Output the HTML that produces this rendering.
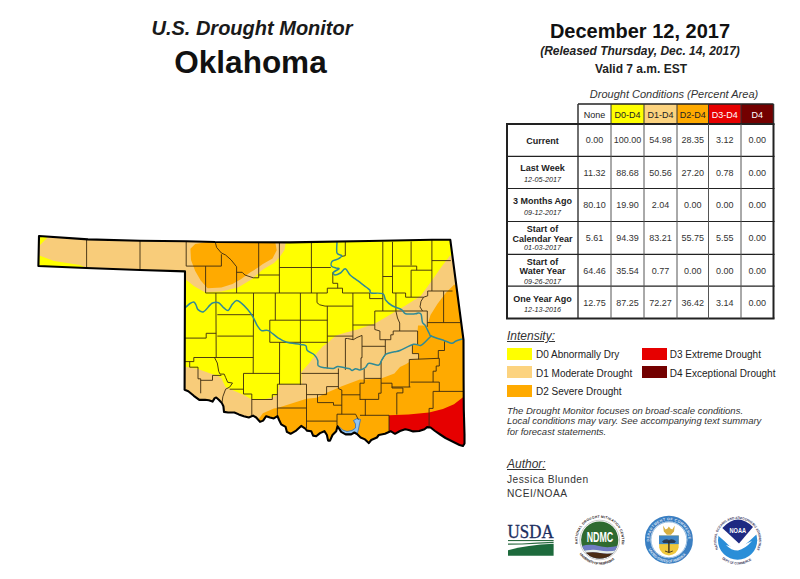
<!DOCTYPE html>
<html><head><meta charset="utf-8">
<style>
html,body{margin:0;padding:0;background:#fff;}
body{width:800px;height:579px;position:relative;overflow:hidden;font-family:"Liberation Sans",sans-serif;color:#222;}
.t{position:absolute;white-space:nowrap;line-height:1;}
.c{text-align:center;}
#tbl div{position:absolute;}
.cell{font-size:9px;line-height:1;text-align:center;color:#333;}
.lab{font-size:9px;font-weight:bold;text-align:center;color:#222;line-height:1;}
.lab i{font-weight:normal;font-size:7.2px;color:#222;}
.sw{position:absolute;width:25px;height:12px;}
.lg{position:absolute;font-size:10px;line-height:1;white-space:nowrap;color:#222;}
</style></head>
<body>
<div class="t c" style="left:102px;top:18px;width:300px;font-size:20px;font-weight:bold;font-style:italic;color:#1a1a1a;">U.S. Drought Monitor</div>
<div class="t c" style="left:100.5px;top:46.5px;width:300px;font-size:31.5px;font-weight:bold;color:#111;">Oklahoma</div>

<div class="t c" style="left:490px;top:21px;width:300px;font-size:20px;font-weight:bold;color:#111;">December 12, 2017</div>
<div class="t c" style="left:490px;top:45px;width:300px;font-size:12px;font-weight:bold;font-style:italic;color:#222;">(Released Thursday, Dec. 14, 2017)</div>
<div class="t c" style="left:491px;top:62.5px;width:300px;font-size:12px;font-weight:bold;color:#222;">Valid 7 a.m. EST</div>
<div class="t c" style="left:574px;top:89px;width:200px;font-size:11px;font-style:italic;color:#333;">Drought Conditions (Percent Area)</div>

<svg id="map" style="position:absolute;left:0;top:0;" width="800" height="579" viewBox="0 0 800 579">
<defs><clipPath id="st"><polygon points="39.0,236.0 88.0,239.4 140.0,240.8 186.0,241.2 215.0,242.0 290.0,242.4 369.0,241.0 432.0,239.8 450.3,239.8 463.5,340.0 463.6,380.0 463.8,410.0 464.5,434.0 464.5,443.5 463.0,446.0 459.5,445.0 452.5,441.5 445.5,438.0 440.2,434.5 435.0,431.0 430.6,427.5 427.1,427.1 424.5,429.2 419.2,431.0 413.1,431.4 408.8,430.1 405.2,429.2 400.0,431.0 395.0,433.8 390.6,431.2 385.0,433.8 378.8,435.0 376.9,437.5 371.2,440.0 368.8,443.1 365.0,439.4 360.6,437.5 357.5,434.4 354.4,432.5 351.2,434.4 345.6,434.4 341.2,431.9 337.5,426.2 336.2,431.2 332.5,435.0 330.0,440.6 328.1,440.6 326.9,435.0 324.4,431.2 320.0,433.1 316.2,436.2 313.1,435.6 311.2,431.2 306.9,430.6 305.6,428.8 301.2,425.9 296.2,430.6 290.6,433.8 286.9,431.9 285.6,426.9 281.2,424.4 279.1,420.0 277.5,416.2 273.8,418.4 270.0,417.5 266.2,416.2 263.1,420.6 260.0,421.9 256.2,417.5 253.1,415.6 248.8,417.5 243.8,416.2 238.8,414.4 234.4,412.5 228.1,412.5 224.0,411.9 223.4,406.2 221.9,403.1 218.8,399.7 216.2,397.5 214.7,398.1 212.5,401.6 208.8,400.3 205.0,399.7 199.3,399.9 193.8,395.8 188.3,391.2 184.6,389.8 185.0,271.4 140.0,270.0 86.0,268.0 38.4,266.0"/></clipPath></defs>
<g clip-path="url(#st)">
<polygon points="39.0,236.0 88.0,239.4 140.0,240.8 186.0,241.2 215.0,242.0 290.0,242.4 369.0,241.0 432.0,239.8 450.3,239.8 463.5,340.0 463.6,380.0 463.8,410.0 464.5,434.0 464.5,443.5 463.0,446.0 459.5,445.0 452.5,441.5 445.5,438.0 440.2,434.5 435.0,431.0 430.6,427.5 427.1,427.1 424.5,429.2 419.2,431.0 413.1,431.4 408.8,430.1 405.2,429.2 400.0,431.0 395.0,433.8 390.6,431.2 385.0,433.8 378.8,435.0 376.9,437.5 371.2,440.0 368.8,443.1 365.0,439.4 360.6,437.5 357.5,434.4 354.4,432.5 351.2,434.4 345.6,434.4 341.2,431.9 337.5,426.2 336.2,431.2 332.5,435.0 330.0,440.6 328.1,440.6 326.9,435.0 324.4,431.2 320.0,433.1 316.2,436.2 313.1,435.6 311.2,431.2 306.9,430.6 305.6,428.8 301.2,425.9 296.2,430.6 290.6,433.8 286.9,431.9 285.6,426.9 281.2,424.4 279.1,420.0 277.5,416.2 273.8,418.4 270.0,417.5 266.2,416.2 263.1,420.6 260.0,421.9 256.2,417.5 253.1,415.6 248.8,417.5 243.8,416.2 238.8,414.4 234.4,412.5 228.1,412.5 224.0,411.9 223.4,406.2 221.9,403.1 218.8,399.7 216.2,397.5 214.7,398.1 212.5,401.6 208.8,400.3 205.0,399.7 199.3,399.9 193.8,395.8 188.3,391.2 184.6,389.8 185.0,271.4 140.0,270.0 86.0,268.0 38.4,266.0" fill="#ffff00"/>
<polygon points="170.0,366.0 184.1,366.4 198.0,369.1 211.8,374.1 217.3,375.4 221.4,378.2 225.6,387.1 235.2,391.2 243.5,394.7 251.8,399.5 262.9,399.5 272.3,397.4 277.4,394.6 279.5,384.2 301.3,384.2 301.3,372.0 308.5,364.0 316.0,354.0 322.6,346.4 328.0,342.6 336.0,335.5 346.0,332.6 358.4,329.2 366.0,326.5 375.0,323.5 397.6,310.2 405.6,305.5 420.8,295.8 431.9,280.6 441.5,266.8 449.8,255.7 480.0,252.0 480.0,460.0 170.0,460.0" fill="#f8cc7a"/>
<polygon points="185.0,241.0 286.0,241.0 284.5,250.0 279.0,258.0 274.0,263.0 262.9,269.5 251.8,279.2 238.0,287.5 221.4,291.6 204.9,292.3 193.8,286.1 185.5,279.2" fill="#f8cc7a"/>
<polygon points="30,230 186,230 186,275 30,275" fill="#f8cc7a"/>
<polygon points="38.0,236.0 48.0,237.0 38.0,247.0" fill="#ffff00"/>
<polygon points="38.0,255.0 54.0,261.0 80.0,265.0 87.0,268.2 38.0,266.5" fill="#ffff00"/>
<polygon points="250.0,430.0 258.7,418.9 262.9,413.3 273.9,408.5 277.4,408.0 306.5,398.7 316.8,397.7 325.0,393.5 341.8,386.2 359.8,379.6 364.2,379.6 381.1,378.4 394.4,373.5 400.0,367.1 406.2,364.0 409.3,361.9 409.3,359.5 418.6,359.3 418.6,353.6 412.4,353.6 412.4,344.3 417.6,344.3 417.6,331.0 418.0,325.4 427.3,325.4 430.5,315.0 437.4,304.1 445.7,293.0 454.0,284.8 480.0,282.0 480.0,460.0 250.0,460.0" fill="#ffaa00"/>
<polygon points="190.4,248.8 195.2,244.0 207.6,242.0 275.3,242.0 276.7,250.2 272.5,258.5 262.9,264.0 257.3,268.1 250.4,272.3 240.8,279.2 232.5,284.0 221.4,287.5 207.6,288.2 200.7,280.6 195.2,270.9 191.0,259.9" fill="#ffaa00"/>
<polygon points="389.0,460.0 389.0,415.3 408.4,414.6 429.1,412.5 442.9,409.1 454.0,404.2 463.0,397.3 480.0,396.0 480.0,460.0" fill="#e60000"/>
<path d="M353.5,420.5 L357,418.5 L360.5,419.5 L359.5,424 L358.5,429 L357.5,433 L352,433.5 L346,434 L341,432 L337.5,427 L339,426.5 L342.5,430 L347,431.5 L352,430.5 L355.5,428 L355.5,424 Z" fill="#8fc4f0" stroke="#2f6fc0" stroke-width="0.8"/>
<polyline points="86.6,239.0 86.6,268.0" fill="none" stroke="#3b2a10" stroke-width="0.9" stroke-linejoin="round"/>
<polyline points="140.0,241.0 140.0,270.0" fill="none" stroke="#3b2a10" stroke-width="0.9" stroke-linejoin="round"/>
<polyline points="186.2,241.9 186.2,266.1" fill="none" stroke="#3b2a10" stroke-width="0.9" stroke-linejoin="round"/>
<polyline points="186.2,266.1 221.4,266.1" fill="none" stroke="#3b2a10" stroke-width="0.9" stroke-linejoin="round"/>
<polyline points="221.4,254.3 221.4,266.1" fill="none" stroke="#3b2a10" stroke-width="0.9" stroke-linejoin="round"/>
<polyline points="215.2,241.9 216.6,247.4 221.4,253.0 225.6,255.0 231.1,259.9 236.6,266.8 236.6,293.0" fill="none" stroke="#3b2a10" stroke-width="0.9" stroke-linejoin="round"/>
<polyline points="205.6,266.1 205.6,293.0" fill="none" stroke="#3b2a10" stroke-width="0.9" stroke-linejoin="round"/>
<polyline points="205.6,293.0 327.3,293.0" fill="none" stroke="#3b2a10" stroke-width="0.9" stroke-linejoin="round"/>
<polyline points="236.6,272.3 242.2,272.3 244.9,275.0 249.0,276.4 253.2,277.8 258.7,277.8" fill="none" stroke="#3b2a10" stroke-width="0.9" stroke-linejoin="round"/>
<polyline points="258.7,242.6 258.7,277.8" fill="none" stroke="#3b2a10" stroke-width="0.9" stroke-linejoin="round"/>
<polyline points="258.7,275.0 279.4,275.0" fill="none" stroke="#3b2a10" stroke-width="0.9" stroke-linejoin="round"/>
<polyline points="279.4,242.6 279.4,293.0" fill="none" stroke="#3b2a10" stroke-width="0.9" stroke-linejoin="round"/>
<polyline points="279.4,267.5 330.8,267.5" fill="none" stroke="#3b2a10" stroke-width="0.9" stroke-linejoin="round"/>
<polyline points="311.4,242.6 311.4,293.0" fill="none" stroke="#3b2a10" stroke-width="0.9" stroke-linejoin="round"/>
<polyline points="345.3,242.0 345.3,255.7 341.8,256.4" fill="none" stroke="#3b2a10" stroke-width="0.9" stroke-linejoin="round"/>
<polyline points="332.8,272.3 332.8,283.3 337.7,283.3 337.7,288.2" fill="none" stroke="#3b2a10" stroke-width="0.9" stroke-linejoin="round"/>
<polyline points="327.3,293.0 327.3,288.2 342.5,288.2 342.5,293.0" fill="none" stroke="#3b2a10" stroke-width="0.9" stroke-linejoin="round"/>
<polyline points="342.5,293.0 369.7,293.0" fill="none" stroke="#3b2a10" stroke-width="0.9" stroke-linejoin="round"/>
<polyline points="369.7,293.0 369.7,298.6 382.8,298.6" fill="none" stroke="#3b2a10" stroke-width="0.9" stroke-linejoin="round"/>
<polyline points="382.8,241.9 382.8,311.0" fill="none" stroke="#3b2a10" stroke-width="0.9" stroke-linejoin="round"/>
<polyline points="382.8,276.5 392.5,276.5" fill="none" stroke="#3b2a10" stroke-width="0.9" stroke-linejoin="round"/>
<polyline points="392.5,241.9 392.5,293.0" fill="none" stroke="#3b2a10" stroke-width="0.9" stroke-linejoin="round"/>
<polyline points="411.1,241.5 411.1,265.4" fill="none" stroke="#3b2a10" stroke-width="0.9" stroke-linejoin="round"/>
<polyline points="392.5,266.1 416.7,266.1 416.7,270.2" fill="none" stroke="#3b2a10" stroke-width="0.9" stroke-linejoin="round"/>
<polyline points="411.1,270.2 432.0,270.2" fill="none" stroke="#3b2a10" stroke-width="0.9" stroke-linejoin="round"/>
<polyline points="411.1,270.2 411.1,297.2" fill="none" stroke="#3b2a10" stroke-width="0.9" stroke-linejoin="round"/>
<polyline points="431.9,240.0 431.9,291.0" fill="none" stroke="#3b2a10" stroke-width="0.9" stroke-linejoin="round"/>
<polyline points="431.9,260.6 450.8,260.6" fill="none" stroke="#3b2a10" stroke-width="0.9" stroke-linejoin="round"/>
<polyline points="392.5,293.0 405.6,293.0 405.6,297.2 423.6,297.2" fill="none" stroke="#3b2a10" stroke-width="0.9" stroke-linejoin="round"/>
<polyline points="427.7,291.0 452.5,291.0" fill="none" stroke="#3b2a10" stroke-width="0.9" stroke-linejoin="round"/>
<polyline points="427.7,291.0 427.7,295.8 423.6,297.2 421.0,301.3 420.0,306.9 422.5,311.0" fill="none" stroke="#3b2a10" stroke-width="0.9" stroke-linejoin="round"/>
<polyline points="374.8,311.0 427.3,311.0" fill="none" stroke="#3b2a10" stroke-width="0.9" stroke-linejoin="round"/>
<polyline points="427.3,311.0 427.3,326.8" fill="none" stroke="#3b2a10" stroke-width="0.9" stroke-linejoin="round"/>
<polyline points="443.6,291.0 443.6,322.6" fill="none" stroke="#3b2a10" stroke-width="0.9" stroke-linejoin="round"/>
<polyline points="427.3,322.6 460.0,322.6" fill="none" stroke="#3b2a10" stroke-width="0.9" stroke-linejoin="round"/>
<polyline points="215.9,293.0 216.2,357.5" fill="none" stroke="#3b2a10" stroke-width="0.9" stroke-linejoin="round"/>
<polyline points="253.5,293.0 253.2,373.4" fill="none" stroke="#3b2a10" stroke-width="0.9" stroke-linejoin="round"/>
<polyline points="275.3,293.0 275.3,320.2" fill="none" stroke="#3b2a10" stroke-width="0.9" stroke-linejoin="round"/>
<polyline points="300.4,293.0 300.4,385.0" fill="none" stroke="#3b2a10" stroke-width="0.9" stroke-linejoin="round"/>
<polyline points="317.0,293.0 317.0,302.7 319.7,304.8 325.0,306.1 352.9,306.1" fill="none" stroke="#3b2a10" stroke-width="0.9" stroke-linejoin="round"/>
<polyline points="352.9,293.0 352.9,339.7" fill="none" stroke="#3b2a10" stroke-width="0.9" stroke-linejoin="round"/>
<polyline points="327.3,306.1 327.3,368.5" fill="none" stroke="#3b2a10" stroke-width="0.9" stroke-linejoin="round"/>
<polyline points="217.3,314.7 253.2,314.7" fill="none" stroke="#3b2a10" stroke-width="0.9" stroke-linejoin="round"/>
<polyline points="217.3,336.1 253.2,336.1" fill="none" stroke="#3b2a10" stroke-width="0.9" stroke-linejoin="round"/>
<polyline points="184.1,338.1 206.2,338.1 206.2,333.3 216.2,333.3" fill="none" stroke="#3b2a10" stroke-width="0.9" stroke-linejoin="round"/>
<polyline points="269.8,320.2 327.3,320.2" fill="none" stroke="#3b2a10" stroke-width="0.9" stroke-linejoin="round"/>
<polyline points="269.8,320.2 269.8,342.3" fill="none" stroke="#3b2a10" stroke-width="0.9" stroke-linejoin="round"/>
<polyline points="269.8,342.3 327.3,342.3" fill="none" stroke="#3b2a10" stroke-width="0.9" stroke-linejoin="round"/>
<polyline points="352.9,325.0 374.8,325.0" fill="none" stroke="#3b2a10" stroke-width="0.9" stroke-linejoin="round"/>
<polyline points="374.8,311.0 374.8,329.5 379.9,331.0 379.9,339.7 390.8,339.7 390.8,334.8 393.2,334.8 393.2,331.0 417.6,331.0 417.6,344.3" fill="none" stroke="#3b2a10" stroke-width="0.9" stroke-linejoin="round"/>
<polyline points="395.9,293.0 395.9,311.0 397.5,318.0 399.7,323.0 399.7,331.0" fill="none" stroke="#3b2a10" stroke-width="0.9" stroke-linejoin="round"/>
<polyline points="327.3,336.1 352.9,336.1" fill="none" stroke="#3b2a10" stroke-width="0.9" stroke-linejoin="round"/>
<polyline points="345.4,338.5 345.4,369.9" fill="none" stroke="#3b2a10" stroke-width="0.9" stroke-linejoin="round"/>
<polyline points="345.4,338.5 347.5,338.5 353.3,339.7 357.0,337.5 362.0,335.4 362.0,357.8 361.0,357.8 361.0,369.9" fill="none" stroke="#3b2a10" stroke-width="0.9" stroke-linejoin="round"/>
<polyline points="362.0,346.3 385.3,346.3" fill="none" stroke="#3b2a10" stroke-width="0.9" stroke-linejoin="round"/>
<polyline points="385.3,339.7 385.3,354.2" fill="none" stroke="#3b2a10" stroke-width="0.9" stroke-linejoin="round"/>
<polyline points="412.4,344.3 412.4,353.6 418.6,353.6 418.6,359.3" fill="none" stroke="#3b2a10" stroke-width="0.9" stroke-linejoin="round"/>
<polyline points="409.3,359.5 439.3,358.3" fill="none" stroke="#3b2a10" stroke-width="0.9" stroke-linejoin="round"/>
<polyline points="409.3,359.5 409.3,387.0" fill="none" stroke="#3b2a10" stroke-width="0.9" stroke-linejoin="round"/>
<polyline points="391.8,387.0 410.4,387.0" fill="none" stroke="#3b2a10" stroke-width="0.9" stroke-linejoin="round"/>
<polyline points="410.4,382.1 439.3,382.1" fill="none" stroke="#3b2a10" stroke-width="0.9" stroke-linejoin="round"/>
<polyline points="439.3,382.1 439.3,391.4" fill="none" stroke="#3b2a10" stroke-width="0.9" stroke-linejoin="round"/>
<polyline points="433.1,391.4 463.0,391.4" fill="none" stroke="#3b2a10" stroke-width="0.9" stroke-linejoin="round"/>
<polyline points="433.1,371.2 433.1,382.1" fill="none" stroke="#3b2a10" stroke-width="0.9" stroke-linejoin="round"/>
<polyline points="433.1,371.2 436.2,371.2 436.2,366.0 439.3,366.0 439.3,358.3" fill="none" stroke="#3b2a10" stroke-width="0.9" stroke-linejoin="round"/>
<polyline points="438.3,358.3 438.3,350.5 444.5,350.5 444.5,341.2" fill="none" stroke="#3b2a10" stroke-width="0.9" stroke-linejoin="round"/>
<polyline points="385.3,354.2 381.1,361.4 381.1,383.2" fill="none" stroke="#3b2a10" stroke-width="0.9" stroke-linejoin="round"/>
<polyline points="364.2,368.7 364.2,383.2 360.0,383.2 360.0,400.0" fill="none" stroke="#3b2a10" stroke-width="0.9" stroke-linejoin="round"/>
<polyline points="364.8,378.4 381.1,378.4" fill="none" stroke="#3b2a10" stroke-width="0.9" stroke-linejoin="round"/>
<polyline points="381.1,383.2 392.0,383.2 392.0,388.0 402.9,388.0 402.9,392.9 396.8,392.9 396.8,414.6" fill="none" stroke="#3b2a10" stroke-width="0.9" stroke-linejoin="round"/>
<polyline points="381.1,383.2 381.1,393.2 378.7,393.2 378.7,399.4" fill="none" stroke="#3b2a10" stroke-width="0.9" stroke-linejoin="round"/>
<polyline points="360.0,399.4 378.7,399.4" fill="none" stroke="#3b2a10" stroke-width="0.9" stroke-linejoin="round"/>
<polyline points="193.8,357.5 253.2,357.5" fill="none" stroke="#3b2a10" stroke-width="0.9" stroke-linejoin="round"/>
<polyline points="193.8,357.5 193.8,361.6 184.1,361.6" fill="none" stroke="#3b2a10" stroke-width="0.9" stroke-linejoin="round"/>
<polyline points="189.7,361.6 189.7,367.2 198.0,367.2 198.0,378.8 200.7,378.8 200.7,393.3" fill="none" stroke="#3b2a10" stroke-width="0.9" stroke-linejoin="round"/>
<polyline points="200.7,380.3 212.5,380.3 212.5,375.4 221.4,375.4" fill="none" stroke="#3b2a10" stroke-width="0.9" stroke-linejoin="round"/>
<polyline points="214.5,357.5 217.3,363.0 218.7,371.3 220.0,374.1 224.2,374.1 225.6,377.4 227.7,382.3 232.5,383.0 229.7,387.1 225.6,389.2 222.8,396.8 222.1,402.3" fill="none" stroke="#3b2a10" stroke-width="0.9" stroke-linejoin="round"/>
<polyline points="229.7,389.2 243.5,389.2" fill="none" stroke="#3b2a10" stroke-width="0.9" stroke-linejoin="round"/>
<polyline points="243.5,373.4 279.5,373.4" fill="none" stroke="#3b2a10" stroke-width="0.9" stroke-linejoin="round"/>
<polyline points="301.3,373.4 339.0,373.4" fill="none" stroke="#3b2a10" stroke-width="0.9" stroke-linejoin="round"/>
<polyline points="243.5,373.4 243.5,394.0 251.8,394.0 251.8,416.1" fill="none" stroke="#3b2a10" stroke-width="0.9" stroke-linejoin="round"/>
<polyline points="251.8,399.5 272.3,399.5 272.3,394.6 277.4,394.6" fill="none" stroke="#3b2a10" stroke-width="0.9" stroke-linejoin="round"/>
<polyline points="279.6,342.3 279.5,384.2" fill="none" stroke="#3b2a10" stroke-width="0.9" stroke-linejoin="round"/>
<polyline points="277.4,384.2 306.5,384.2" fill="none" stroke="#3b2a10" stroke-width="0.9" stroke-linejoin="round"/>
<polyline points="277.4,384.2 277.4,417.0" fill="none" stroke="#3b2a10" stroke-width="0.9" stroke-linejoin="round"/>
<polyline points="306.5,384.2 306.5,428.0" fill="none" stroke="#3b2a10" stroke-width="0.9" stroke-linejoin="round"/>
<polyline points="277.4,408.0 306.5,408.0" fill="none" stroke="#3b2a10" stroke-width="0.9" stroke-linejoin="round"/>
<polyline points="338.4,368.5 338.4,388.6 341.8,390.0 341.8,414.2" fill="none" stroke="#3b2a10" stroke-width="0.9" stroke-linejoin="round"/>
<polyline points="306.5,394.6 326.6,394.6 326.6,386.6 338.4,386.6" fill="none" stroke="#3b2a10" stroke-width="0.9" stroke-linejoin="round"/>
<polyline points="341.8,394.8 360.0,394.8" fill="none" stroke="#3b2a10" stroke-width="0.9" stroke-linejoin="round"/>
<polyline points="317.5,394.6 317.5,402.6 333.5,402.6 333.5,405.2 341.8,405.2" fill="none" stroke="#3b2a10" stroke-width="0.9" stroke-linejoin="round"/>
<polyline points="337.0,414.2 355.6,414.2 358.4,419.7" fill="none" stroke="#3b2a10" stroke-width="0.9" stroke-linejoin="round"/>
<polyline points="306.5,421.1 337.0,421.1" fill="none" stroke="#3b2a10" stroke-width="0.9" stroke-linejoin="round"/>
<polyline points="337.0,414.2 337.0,425.2" fill="none" stroke="#3b2a10" stroke-width="0.9" stroke-linejoin="round"/>
<polyline points="365.3,399.4 365.3,415.6" fill="none" stroke="#3b2a10" stroke-width="0.9" stroke-linejoin="round"/>
<polyline points="360.0,415.3 389.0,415.3" fill="none" stroke="#3b2a10" stroke-width="0.9" stroke-linejoin="round"/>
<polyline points="389.0,415.3 389.0,431.9" fill="none" stroke="#3b2a10" stroke-width="0.9" stroke-linejoin="round"/>
<polyline points="429.1,408.4 429.1,427.0" fill="none" stroke="#3b2a10" stroke-width="0.9" stroke-linejoin="round"/>
<polyline points="433.1,391.4 433.1,408.4 429.1,408.4" fill="none" stroke="#3b2a10" stroke-width="0.9" stroke-linejoin="round"/>
<path d="M183.5,308.2 C183.9,308.0 185.1,307.6 186.2,306.8 C187.3,306.0 188.7,304.3 190.0,303.5 C191.3,302.7 192.8,301.8 193.8,302.0 C194.8,302.2 195.3,303.7 196.0,305.0 C196.7,306.3 196.8,308.5 198.0,309.6 C199.2,310.7 201.6,312.4 203.5,311.7 C205.4,311.0 208.1,306.9 209.7,305.4 C211.3,303.9 211.6,303.1 213.1,302.7 C214.6,302.2 216.8,301.8 218.7,302.7 C220.5,303.6 222.6,306.9 224.2,308.2 C225.8,309.5 226.9,311.0 228.3,310.3 C229.7,309.6 231.1,305.6 232.5,304.0 C233.9,302.4 235.2,300.8 236.6,300.6 C238.0,300.4 239.0,301.2 240.8,302.7 C242.7,304.2 245.6,307.2 247.7,309.6 C249.8,312.1 251.6,314.7 253.2,317.4 C254.8,320.1 255.9,323.5 257.3,325.7 C258.7,327.9 259.6,329.8 261.5,330.6 C263.4,331.4 265.6,329.4 268.4,330.6 C271.2,331.9 275.3,336.2 278.3,338.1 C281.3,340.1 282.9,341.2 286.6,342.3 C290.3,343.4 297.2,343.8 300.4,344.4 C303.6,345.0 304.8,344.7 305.9,345.7 C307.0,346.7 305.9,349.1 307.3,350.6 C308.7,352.1 312.5,353.1 314.2,354.7 C315.9,356.3 317.0,358.3 317.7,360.2 C318.4,362.1 317.1,364.5 318.3,365.8 C319.6,367.1 322.7,367.4 325.2,367.8 C327.7,368.2 331.4,368.7 333.5,368.5 C335.6,368.3 335.8,366.6 337.7,366.5 C339.6,366.4 342.6,367.4 344.6,367.8 C346.6,368.2 348.4,368.2 349.7,368.7 C350.9,369.1 351.1,370.5 352.1,370.5 C353.1,370.5 354.4,368.8 355.7,368.7 C357.0,368.6 358.4,370.1 360.0,369.9 C361.6,369.7 363.9,368.6 365.4,367.5 C366.9,366.4 366.8,363.7 369.0,363.3 C371.2,362.9 376.6,365.6 378.7,365.1 C380.8,364.6 380.5,362.0 381.7,360.2 C382.9,358.4 383.9,355.6 386.0,354.2 C388.1,352.8 392.1,352.4 394.4,351.8 C396.7,351.2 396.8,351.8 400.0,350.5 C403.2,349.2 410.1,345.2 413.5,344.3 C416.9,343.4 418.6,345.9 420.7,345.4 C422.8,344.9 424.2,342.8 425.9,341.2 C427.6,339.6 430.2,336.9 431.1,336.0" fill="none" stroke="#2f8a96" stroke-width="1.5" stroke-linejoin="round" stroke-linecap="round"/>
<path d="M337.0,242.0 C337.0,243.8 336.2,250.7 337.0,253.0 C337.8,255.3 341.7,254.7 341.8,255.7 C341.9,256.7 339.3,258.3 337.7,259.2 C336.1,260.1 333.2,260.0 332.2,261.2 C331.2,262.4 330.8,265.0 331.5,266.1 C332.2,267.2 335.1,267.7 336.3,268.1 C337.6,268.6 339.5,268.1 339.0,268.8 C338.5,269.5 334.2,271.3 333.5,272.3 C332.8,273.3 333.8,274.9 334.9,275.0 C336.0,275.1 338.7,274.0 340.4,273.0 C342.1,272.0 343.7,268.5 345.3,268.8 C346.9,269.1 348.4,273.3 350.1,275.0 C351.8,276.7 353.8,277.8 355.6,279.2 C357.5,280.6 359.4,281.9 361.2,283.3 C363.0,284.7 365.2,286.4 366.7,287.5 C368.2,288.6 369.3,289.3 370.0,290.2 C370.7,291.1 368.9,292.4 371.0,293.0 C373.1,293.6 380.4,292.5 382.8,293.7 C385.2,294.9 384.1,298.0 385.6,300.0 C387.1,302.0 389.2,303.9 391.8,305.5 C394.4,307.1 399.2,308.2 401.5,309.6 C403.8,311.0 403.3,313.1 405.6,313.8 C407.9,314.5 413.2,313.9 415.3,313.8 C417.4,313.7 417.3,312.9 418.3,313.0 C419.3,313.1 420.4,312.7 421.1,314.3 C421.8,315.9 421.8,320.8 422.5,322.6 C423.2,324.5 424.1,323.5 425.2,325.4 C426.4,327.2 428.4,331.9 429.4,333.7 C430.4,335.5 428.6,334.8 431.1,336.0 C433.6,337.2 441.1,339.5 444.5,340.7 C447.9,341.9 449.9,343.2 451.8,343.3 C453.7,343.4 454.3,341.7 456.0,341.0 C457.7,340.3 461.0,339.4 462.0,339.1" fill="none" stroke="#2f8a96" stroke-width="1.5" stroke-linejoin="round" stroke-linecap="round"/>
</g>
<polygon points="39.0,236.0 88.0,239.4 140.0,240.8 186.0,241.2 215.0,242.0 290.0,242.4 369.0,241.0 432.0,239.8 450.3,239.8 463.5,340.0 463.6,380.0 463.8,410.0 464.5,434.0 464.5,443.5 463.0,446.0 459.5,445.0 452.5,441.5 445.5,438.0 440.2,434.5 435.0,431.0 430.6,427.5 427.1,427.1 424.5,429.2 419.2,431.0 413.1,431.4 408.8,430.1 405.2,429.2 400.0,431.0 395.0,433.8 390.6,431.2 385.0,433.8 378.8,435.0 376.9,437.5 371.2,440.0 368.8,443.1 365.0,439.4 360.6,437.5 357.5,434.4 354.4,432.5 351.2,434.4 345.6,434.4 341.2,431.9 337.5,426.2 336.2,431.2 332.5,435.0 330.0,440.6 328.1,440.6 326.9,435.0 324.4,431.2 320.0,433.1 316.2,436.2 313.1,435.6 311.2,431.2 306.9,430.6 305.6,428.8 301.2,425.9 296.2,430.6 290.6,433.8 286.9,431.9 285.6,426.9 281.2,424.4 279.1,420.0 277.5,416.2 273.8,418.4 270.0,417.5 266.2,416.2 263.1,420.6 260.0,421.9 256.2,417.5 253.1,415.6 248.8,417.5 243.8,416.2 238.8,414.4 234.4,412.5 228.1,412.5 224.0,411.9 223.4,406.2 221.9,403.1 218.8,399.7 216.2,397.5 214.7,398.1 212.5,401.6 208.8,400.3 205.0,399.7 199.3,399.9 193.8,395.8 188.3,391.2 184.6,389.8 185.0,271.4 140.0,270.0 86.0,268.0 38.4,266.0" fill="none" stroke="#000" stroke-width="2.1" stroke-linejoin="round"/>
</svg>
<div id="tbl"><div style="left:578px;top:104px;width:33.0px;height:20.0px;background:#fff;"></div><div class="cell" style="left:578px;top:110.9px;width:33.0px;color:#222;">None</div><div style="left:611px;top:104px;width:33.0px;height:20.0px;background:#ffff00;"></div><div class="cell" style="left:611px;top:110.9px;width:33.0px;color:#222;">D0-D4</div><div style="left:644px;top:104px;width:33.0px;height:20.0px;background:#fcd37f;"></div><div class="cell" style="left:644px;top:110.9px;width:33.0px;color:#222;">D1-D4</div><div style="left:677px;top:104px;width:31.5px;height:20.0px;background:#ffaa00;"></div><div class="cell" style="left:677px;top:110.9px;width:31.5px;color:#222;">D2-D4</div><div style="left:708.5px;top:104px;width:32.5px;height:20.0px;background:#e60000;"></div><div class="cell" style="left:708.5px;top:110.9px;width:32.5px;color:#fff;">D3-D4</div><div style="left:741px;top:104px;width:32.5px;height:20.0px;background:#730000;"></div><div class="cell" style="left:741px;top:110.9px;width:32.5px;color:#fff;">D4</div><div class="cell" style="left:578px;top:136.4px;width:33.0px;">0.00</div><div class="cell" style="left:611px;top:136.4px;width:33.0px;">100.00</div><div class="cell" style="left:644px;top:136.4px;width:33.0px;">54.98</div><div class="cell" style="left:677px;top:136.4px;width:31.5px;">28.35</div><div class="cell" style="left:708.5px;top:136.4px;width:32.5px;">3.12</div><div class="cell" style="left:741px;top:136.4px;width:32.5px;">0.00</div><div class="lab" style="left:507px;top:136.5px;width:71px;">Current</div><div class="cell" style="left:578px;top:168.7px;width:33.0px;">11.32</div><div class="cell" style="left:611px;top:168.7px;width:33.0px;">88.68</div><div class="cell" style="left:644px;top:168.7px;width:33.0px;">50.56</div><div class="cell" style="left:677px;top:168.7px;width:31.5px;">27.20</div><div class="cell" style="left:708.5px;top:168.7px;width:32.5px;">0.78</div><div class="cell" style="left:741px;top:168.7px;width:32.5px;">0.00</div><div class="lab" style="left:507px;top:163.9px;width:71px;">Last Week</div><div class="lab" style="left:507px;top:174.5px;width:71px;"><i>12-05-2017</i></div><div class="cell" style="left:578px;top:201.3px;width:33.0px;">80.10</div><div class="cell" style="left:611px;top:201.3px;width:33.0px;">19.90</div><div class="cell" style="left:644px;top:201.3px;width:33.0px;">2.04</div><div class="cell" style="left:677px;top:201.3px;width:31.5px;">0.00</div><div class="cell" style="left:708.5px;top:201.3px;width:32.5px;">0.00</div><div class="cell" style="left:741px;top:201.3px;width:32.5px;">0.00</div><div class="lab" style="left:507px;top:197.2px;width:71px;">3 Months Ago</div><div class="lab" style="left:507px;top:207.8px;width:71px;"><i>09-12-2017</i></div><div class="cell" style="left:578px;top:234.2px;width:33.0px;">5.61</div><div class="cell" style="left:611px;top:234.2px;width:33.0px;">94.39</div><div class="cell" style="left:644px;top:234.2px;width:33.0px;">83.21</div><div class="cell" style="left:677px;top:234.2px;width:31.5px;">55.75</div><div class="cell" style="left:708.5px;top:234.2px;width:32.5px;">5.55</div><div class="cell" style="left:741px;top:234.2px;width:32.5px;">0.00</div><div class="lab" style="left:507px;top:224.9px;width:71px;">Start of</div><div class="lab" style="left:507px;top:234.8px;width:71px;">Calendar Year</div><div class="lab" style="left:507px;top:242.6px;width:71px;"><i>01-03-2017</i></div><div class="cell" style="left:578px;top:266.6px;width:33.0px;">64.46</div><div class="cell" style="left:611px;top:266.6px;width:33.0px;">35.54</div><div class="cell" style="left:644px;top:266.6px;width:33.0px;">0.77</div><div class="cell" style="left:677px;top:266.6px;width:31.5px;">0.00</div><div class="cell" style="left:708.5px;top:266.6px;width:32.5px;">0.00</div><div class="cell" style="left:741px;top:266.6px;width:32.5px;">0.00</div><div class="lab" style="left:507px;top:257.8px;width:71px;">Start of</div><div class="lab" style="left:507px;top:267.1px;width:71px;">Water Year</div><div class="lab" style="left:507px;top:276.5px;width:71px;"><i>09-26-2017</i></div><div class="cell" style="left:578px;top:298.7px;width:33.0px;">12.75</div><div class="cell" style="left:611px;top:298.7px;width:33.0px;">87.25</div><div class="cell" style="left:644px;top:298.7px;width:33.0px;">72.27</div><div class="cell" style="left:677px;top:298.7px;width:31.5px;">36.42</div><div class="cell" style="left:708.5px;top:298.7px;width:32.5px;">3.14</div><div class="cell" style="left:741px;top:298.7px;width:32.5px;">0.00</div><div class="lab" style="left:507px;top:294.9px;width:71px;">One Year Ago</div><div class="lab" style="left:507px;top:304.9px;width:71px;"><i>12-13-2016</i></div><svg style="position:absolute;left:0;top:0;" width="800" height="579" viewBox="0 0 800 579"><line x1="578" y1="104" x2="773.5" y2="104" stroke="#222" stroke-width="1.5"/><line x1="578" y1="104" x2="578" y2="124" stroke="#333" stroke-width="1.5"/><line x1="611" y1="104" x2="611" y2="124" stroke="#333" stroke-width="1"/><line x1="644" y1="104" x2="644" y2="124" stroke="#333" stroke-width="1"/><line x1="677" y1="104" x2="677" y2="124" stroke="#333" stroke-width="1"/><line x1="708.5" y1="104" x2="708.5" y2="124" stroke="#333" stroke-width="1"/><line x1="741" y1="104" x2="741" y2="124" stroke="#333" stroke-width="1"/><line x1="773.5" y1="104" x2="773.5" y2="124" stroke="#333" stroke-width="1.5"/><line x1="506" y1="124" x2="774.5" y2="124" stroke="#222" stroke-width="2"/><line x1="506" y1="156.3" x2="774.5" y2="156.3" stroke="#222" stroke-width="1.2"/><line x1="506" y1="188.5" x2="774.5" y2="188.5" stroke="#222" stroke-width="1.2"/><line x1="506" y1="221.5" x2="774.5" y2="221.5" stroke="#222" stroke-width="1.2"/><line x1="506" y1="254.4" x2="774.5" y2="254.4" stroke="#222" stroke-width="1.2"/><line x1="506" y1="286.2" x2="774.5" y2="286.2" stroke="#222" stroke-width="1.2"/><line x1="506" y1="318.6" x2="774.5" y2="318.6" stroke="#222" stroke-width="2"/><line x1="507" y1="124" x2="507" y2="318.6" stroke="#222" stroke-width="2"/><line x1="578" y1="124" x2="578" y2="318.6" stroke="#222" stroke-width="1.3"/><line x1="611" y1="124" x2="611" y2="318.6" stroke="#555" stroke-width="1"/><line x1="644" y1="124" x2="644" y2="318.6" stroke="#555" stroke-width="1"/><line x1="677" y1="124" x2="677" y2="318.6" stroke="#555" stroke-width="1"/><line x1="708.5" y1="124" x2="708.5" y2="318.6" stroke="#555" stroke-width="1"/><line x1="741" y1="124" x2="741" y2="318.6" stroke="#555" stroke-width="1"/><line x1="773.5" y1="124" x2="773.5" y2="318.6" stroke="#222" stroke-width="2"/></svg></div>

<div class="t" style="left:507px;top:330px;font-size:12px;font-style:italic;text-decoration:underline;color:#333;">Intensity:</div>
<div class="sw" style="left:507px;top:348px;background:#ffff00;"></div>
<div class="sw" style="left:507px;top:366px;background:#fcd37f;"></div>
<div class="sw" style="left:507px;top:385px;background:#ffaa00;"></div>
<div class="sw" style="left:642px;top:348px;background:#e60000;"></div>
<div class="sw" style="left:642px;top:366px;background:#730000;"></div>
<div class="lg" style="left:536px;top:350.3px;">D0 Abnormally Dry</div>
<div class="lg" style="left:536px;top:368.9px;">D1 Moderate Drought</div>
<div class="lg" style="left:536px;top:386.9px;">D2 Severe Drought</div>
<div class="lg" style="left:669.8px;top:350.3px;">D3 Extreme Drought</div>
<div class="lg" style="left:669.8px;top:368.9px;">D4 Exceptional Drought</div>
<div class="t" style="left:507px;top:405.5px;font-size:9.5px;line-height:10.55px;font-style:italic;color:#333;">The Drought Monitor focuses on broad-scale conditions.<br>Local conditions may vary. See accompanying text summary<br>for forecast statements.</div>

<div class="t" style="left:507px;top:458px;font-size:12px;font-style:italic;text-decoration:underline;color:#333;">Author:</div>
<div class="t" style="left:507px;top:472.5px;font-size:10.2px;line-height:14px;letter-spacing:0.5px;color:#333;">Jessica Blunden<br>NCEI/NOAA</div>

<svg id="logos" style="position:absolute;left:0;top:0;" width="800" height="579" viewBox="0 0 800 579"><defs><path id="nd1" d="M577.84,543.85 A22.2,22.2 0 1 1 621.56,543.85" fill="none"/><path id="nd2" d="M579.55,554.11 A24.6,24.6 0 0 0 619.85,554.11" fill="none"/><path id="dc1" d="M649.37,541.51 A19.6,19.6 0 1 1 688.43,541.51" fill="none"/><path id="dc2" d="M648.42,549.35 A22.6,22.6 0 0 0 689.38,549.35" fill="none"/><path id="no1" d="M718.30,549.20 A21.3,21.3 0 1 1 756.90,549.20" fill="none"/><path id="no2" d="M721.98,558.81 A24.3,24.3 0 0 0 753.22,558.81" fill="none"/></defs><text x="507.6" y="537.6" font-family="Liberation Serif" font-size="19.8" fill="#1c2d5e" stroke="#1c2d5e" stroke-width="0.35" textLength="46" lengthAdjust="spacingAndGlyphs">USDA</text><rect x="508" y="540" width="45.6" height="1.1" fill="#2a6a40"/><path d="M508,543.6 L522,543.4 Q537,542.5 553.6,541.8 L553.6,542.9 Q537,543.6 522,544.6 L508,544.8 Z" fill="#2a6a40"/><path d="M508,550.3 Q527,545 553.6,543.8 L553.6,555.8 L508,555.8 Z" fill="#1d6a3c"/><text font-family="Liberation Sans" font-weight="bold" font-size="3.4" fill="#2a2018" opacity="1" letter-spacing="0.25"><textPath href="#nd1" textLength="78" lengthAdjust="spacing">NATIONAL DROUGHT MITIGATION CENTER</textPath></text><text font-family="Liberation Sans" font-weight="bold" font-size="3.4" fill="#2a2018" opacity="1" letter-spacing="0.25"><textPath href="#nd2" textLength="40" lengthAdjust="spacing">UNIVERSITY OF NEBRASKA</textPath></text><circle cx="599.7" cy="540" r="19.8" fill="none" stroke="#999" stroke-width="0.5"/><clipPath id="ndc"><circle cx="599.7" cy="540" r="18.6"/></clipPath><g clip-path="url(#ndc)"><rect x="579.7" y="520" width="40" height="40" fill="#2f6a30"/><path d="M580,546.5 Q590,543.5 599,546 Q607,548.5 620,545.5 L620,560 L580,560 Z" fill="#6f7cc4"/><path d="M580,551.5 Q592,548.5 600,550.5 Q608,552.5 620,549.5 L620,552 Q608,555 600,553 Q592,551 580,554 Z" fill="#e6eeea"/><path d="M580,553.8 Q592,551 600,553 Q608,555 620,552 L620,560 L580,560 Z" fill="#4a2c14"/></g><text x="599.9" y="542.3" text-anchor="middle" font-family="Liberation Sans" font-weight="bold" font-size="13.5" fill="#fff" textLength="26.5" lengthAdjust="spacingAndGlyphs" transform="translate(0,-54.2) scale(1,1.1)">NDMC</text><circle cx="668.9" cy="539.8" r="21.2" fill="none" stroke="#3b7fc2" stroke-width="5.6"/><text font-family="Liberation Sans" font-weight="bold" font-size="3.6" fill="#e8f0fa" opacity="0.9"><textPath href="#dc1" textLength="62" lengthAdjust="spacing">DEPARTMENT OF COMMERCE</textPath></text><text font-family="Liberation Sans" font-weight="bold" font-size="3.6" fill="#e8f0fa" opacity="0.9"><textPath href="#dc2" textLength="45" lengthAdjust="spacing">UNITED STATES OF AMERICA</textPath></text><circle cx="668.9" cy="539.8" r="17.9" fill="none" stroke="#7aaad6" stroke-width="0.8"/><path d="M663,525.5 L665.5,529.5 L667.5,528.5 L668.9,526.5 L670.3,528.5 L672.3,529.5 L674.8,525.5 L674,531.5 L671,534.8 L666.8,534.8 L663.8,531.5 Z" fill="#d8b040"/><path d="M659,535.5 L678.8,535.5 L678.6,547.5 Q677.6,553.8 668.9,555.6 Q660.2,553.8 659.2,547.5 Z" fill="#f0c83c"/><rect x="659" y="535.5" width="19.8" height="8.6" fill="#3f86c6"/><path d="M662,541.5 Q665.5,538 669,540 Q672.5,538 676,541.5 L674.5,543 L663.5,543 Z" fill="#2a3b55"/><rect x="668.2" y="541" width="1.4" height="11.5" fill="#3a3020"/><path d="M665,551 Q668.9,554 672.8,551" fill="none" stroke="#3a3020" stroke-width="0.9"/><text font-family="Liberation Sans" font-weight="bold" font-size="3.3" fill="#2a2a50" opacity="0.9" letter-spacing="0.3"><textPath href="#no1" textLength="92" lengthAdjust="spacing">NATIONAL OCEANIC AND ATMOSPHERIC ADMINISTRATION</textPath></text><text font-family="Liberation Sans" font-weight="bold" font-size="3.3" fill="#2a2a50" opacity="0.9" letter-spacing="0.3"><textPath href="#no2" textLength="32" lengthAdjust="spacing">DEPT OF COMMERCE</textPath></text><clipPath id="noc"><circle cx="737.6" cy="540.2" r="19.6"/></clipPath><g clip-path="url(#noc)"><path d="M715,533 Q724,540 730,546.5 Q735,550 741,548 Q750,541 760,531 L760,562 L715,562 Z" fill="#2a8ed8"/><path d="M726,545 Q733,548 740,546.5 L752,541 Q745,549 738,550.5 Q731,550.5 726,545 Z" fill="#fff"/></g><path d="M722.3,528 Q737.5,511.5 753,527 L739,543.5 Z" fill="#1e2a82"/><text x="737.8" y="533.4" text-anchor="middle" font-family="Liberation Sans" font-weight="bold" font-size="6.8" fill="#fff" textLength="16.5" lengthAdjust="spacingAndGlyphs">NOAA</text></svg>
</body></html>
